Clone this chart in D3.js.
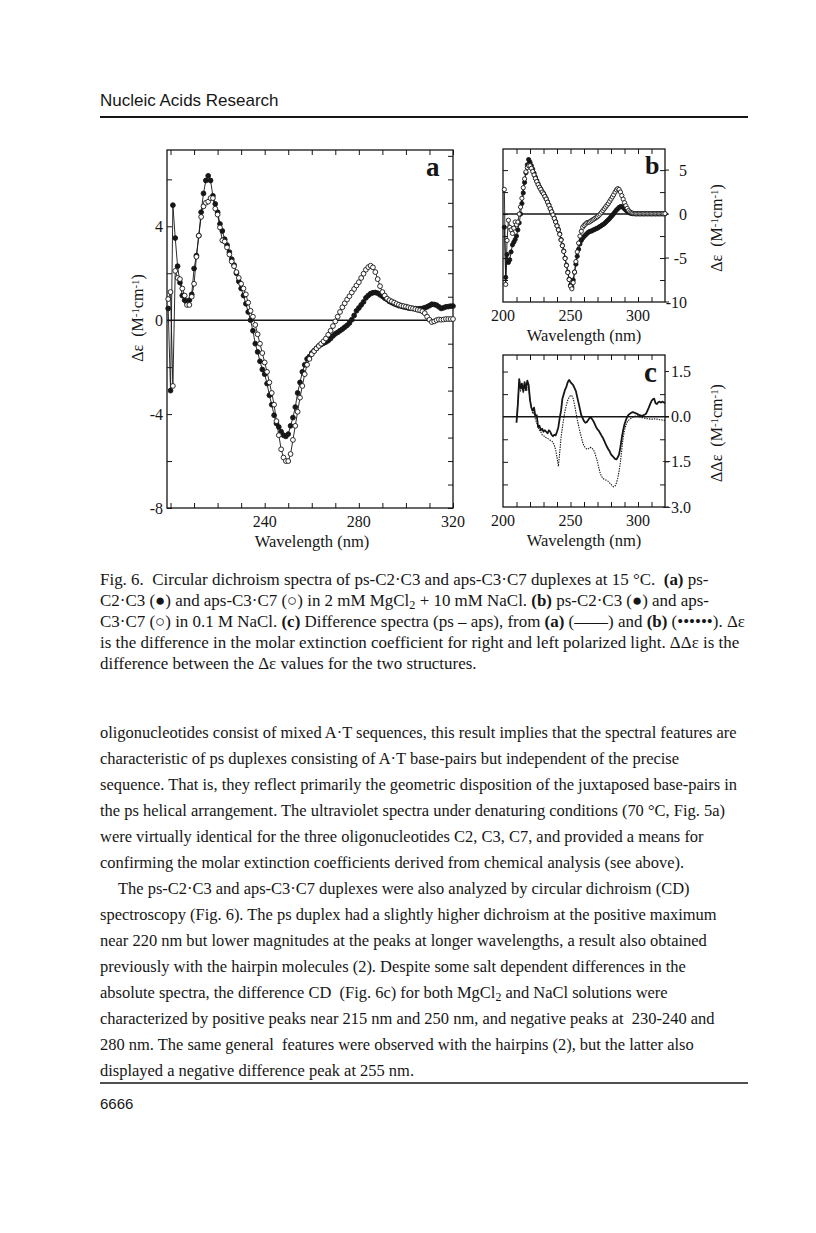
<!DOCTYPE html>
<html>
<head>
<meta charset="utf-8">
<title>Fig. 6 - CD spectra</title>
<script src="https://cdn.jsdelivr.net/npm/d3@7/dist/d3.min.js"></script>
<style>
  html, body { margin: 0; padding: 0; background: #fff; }
  svg { display: block; }
  text { font-family: "Liberation Serif", "Times New Roman", Times, serif; fill: #161616; white-space: pre; }
  .sans { font-family: "Liberation Sans", Arial, Helvetica, sans-serif; }
</style>
</head>
<body>
<svg id="page" width="816" height="1233"></svg>
<script>
// ---- data ----
// panel a: 2 mM MgCl2 + 10 mM NaCl, 1 nm steps 199..320
var nmA = d3.range(199, 321);
var psA = [
  0.5, -3.0, 4.9, 3.5, 2.3, 1.6, 1.05, 0.85, 0.75, 0.85, 1.1,
  2.2, 2.75, 3.6, 4.6, 5.4, 5.95, 6.15, 5.95, 5.3, 4.95,
  4.6, 4.1, 3.8, 3.45, 3.2, 2.9, 2.6, 2.35, 2.0, 1.65,
  1.35, 1.05, 0.7, 0.35, 0.0, -0.45, -1.0, -1.35, -1.75, -2.1,
  -2.3, -2.7, -3.2, -3.6, -4.05, -4.4, -4.55, -4.75, -4.9, -4.95,
  -4.85, -4.5, -4.15, -3.7, -3.1, -2.65, -2.2, -1.9, -1.65, -1.55,
  -1.4, -1.3, -1.2, -1.1, -1.03, -0.98, -0.93, -0.87, -0.78, -0.67,
  -0.58, -0.52, -0.45, -0.38, -0.3, -0.22, -0.12, 0.02, 0.2, 0.4,
  0.52, 0.65, 0.78, 0.95, 1.05, 1.13, 1.17, 1.18, 1.15, 1.08,
  1.02, 0.94, 0.88, 0.8, 0.75, 0.7, 0.66, 0.62, 0.6, 0.57,
  0.55, 0.52, 0.51, 0.5, 0.49, 0.48, 0.49, 0.5, 0.53, 0.57,
  0.62, 0.68, 0.67, 0.64, 0.57, 0.5, 0.53, 0.57, 0.58, 0.6,
  0.6
];
var apsA = [
  0.9, 1.2, -2.8, 2.1, 1.8, 1.75, 1.35, 1.05, 0.65, 0.65, 1.0,
  1.55, 2.7, 3.6, 4.4, 4.85, 5.0, 5.05, 5.2, 5.2, 4.75,
  4.5, 3.95, 3.4, 3.35, 3.1, 2.8, 2.5, 2.3, 2.05, 1.8,
  1.55, 1.35, 1.1, 0.75, 0.4, 0.15, -0.2, -0.6, -1.0, -1.4,
  -1.8, -2.2, -2.65, -3.1, -3.6, -4.3, -4.9, -5.5, -5.85, -6.0,
  -6.0, -5.7, -5.1, -4.5, -3.9, -3.3, -2.8, -2.3, -1.9, -1.65,
  -1.45, -1.32, -1.2, -1.1, -1.0, -0.9, -0.78, -0.62, -0.45, -0.25,
  -0.05, 0.15, 0.35, 0.55, 0.72, 0.88, 1.02, 1.18, 1.33, 1.48,
  1.62, 1.8, 1.98, 2.15, 2.26, 2.32, 2.25, 2.05, 1.75, 1.45,
  1.2, 1.05, 0.92, 0.85, 0.8, 0.75, 0.7, 0.66, 0.62, 0.6,
  0.58, 0.55, 0.52, 0.5, 0.47, 0.44, 0.42, 0.38, 0.3, 0.15,
  0.02, -0.08, -0.05, 0.0, 0.03, 0.02, 0.03, 0.05, 0.05, 0.05,
  0.05
];

// panel b: 0.1 M NaCl, 1 nm steps 201..320
var nmB = d3.range(201, 321);
var psB = [
  -1.5, -7.2, -4.6, -5.5, -5.2, -4.3, -3.5, -3.2, -2.9, -2.5,
  -1.8, -1.0, 0.0, 1.2, 2.4, 3.6, 4.7, 5.6, 6.2, 5.9,
  5.5, 5.1, 4.65, 4.2, 3.8, 3.45, 3.1, 2.85, 2.55, 2.35,
  2.05, 1.75, 1.4, 1.05, 0.65, 0.3, -0.05, -0.45, -0.85, -1.3,
  -1.75, -2.25, -2.9, -3.55, -4.2, -5.0, -5.8, -6.6, -7.4, -8.1,
  -8.3, -7.5, -6.6, -5.7, -4.8, -4.0, -3.4, -3.0, -2.75, -2.55,
  -2.4, -2.25, -2.1, -2.0, -1.95, -1.9, -1.8, -1.75, -1.65, -1.6,
  -1.5, -1.4, -1.3, -1.2, -1.1, -0.95, -0.8, -0.65, -0.5, -0.3,
  -0.15, 0.05, 0.25, 0.45, 0.6, 0.75, 0.85, 0.85, 0.75, 0.6,
  0.45, 0.3, 0.2, 0.12, 0.08, 0.05, 0.04, 0.03, 0.03, 0.03,
  0.03, 0.03, 0.03, 0.03, 0.03, 0.03, 0.03, 0.03, 0.03, 0.03,
  0.03, 0.03, 0.03, 0.03, 0.03, 0.03, 0.03, 0.03, 0.03, 0.03
];
var apsB = [
  2.8, -8.0, -3.0, -0.7, -1.5, -1.8, -2.2, -1.6, -0.9, -1.2,
  -0.9, 0.0, 0.8, 1.8, 3.0, 4.0, 4.8, 5.3, 5.5, 5.5,
  5.2, 4.85, 4.45, 4.05, 3.7, 3.35, 3.05, 2.8, 2.5, 2.3,
  2.0, 1.7, 1.35, 1.0, 0.6, 0.25, -0.1, -0.5, -0.9, -1.35,
  -1.8, -2.3, -2.95, -3.6, -4.25, -5.05, -5.85, -6.65, -7.45, -8.2,
  -8.5, -7.8, -6.6, -5.4, -4.3, -3.3, -2.5, -1.95, -1.5, -1.3,
  -1.15, -1.0, -0.95, -0.9, -0.8, -0.7, -0.6, -0.5, -0.4, -0.3,
  -0.15, 0.0, 0.2, 0.4, 0.6, 0.8, 1.0, 1.2, 1.45, 1.7,
  1.95, 2.2, 2.5, 2.75, 2.9, 2.8, 2.5, 2.1, 1.7, 1.3,
  0.95, 0.65, 0.4, 0.25, 0.15, 0.1, 0.06, 0.05, 0.05, 0.05,
  0.05, 0.05, 0.05, 0.05, 0.05, 0.05, 0.05, 0.05, 0.05, 0.05,
  0.05, 0.05, 0.05, 0.05, 0.05, 0.05, 0.05, 0.05, 0.05, 0.05
];

// panel c: difference spectra ps - aps, 1 nm steps 210..320
var nmC = d3.range(210, 321);
var diffMg = [
  -0.2, 0.4, 1.25, 0.95, 1.1, 0.85, 1.15, 0.9, 1.2, 1.05,
  0.55, 0.3, 0.2, 0.3, 0.0, 0.05, -0.35, -0.3, -0.45, -0.4,
  -0.5, -0.45, -0.5, -0.55, -0.45, -0.5, -0.6, -0.65, -0.6, -0.62,
  -0.5, -0.35, -0.05, 0.2, 0.6, 0.75, 0.9, 1.0, 1.15, 1.22,
  1.15, 1.1, 1.05, 0.95, 0.85, 0.65, 0.45, 0.25, 0.05, -0.05,
  -0.15, -0.2, -0.18, -0.12, -0.05, -0.02, -0.08, -0.15, -0.25, -0.35,
  -0.42, -0.47, -0.55, -0.63, -0.7, -0.8, -0.9, -1.0, -1.08, -1.15,
  -1.25, -1.3, -1.35, -1.4, -1.42, -1.35, -1.25, -1.0, -0.7, -0.45,
  -0.25, -0.12, 0.0, 0.06, 0.1, 0.13, 0.15, 0.14, 0.12, 0.1,
  0.08, 0.05, 0.04, 0.03, 0.05, 0.07, 0.1, 0.2, 0.3, 0.42,
  0.52, 0.58, 0.6, 0.45, 0.42, 0.48, 0.5, 0.47, 0.5, 0.48,
  0.45
];
var diffNa = [
  -0.15, 0.5, 1.1, 0.85, 1.0, 0.8, 0.95, 0.85, 0.9, 1.0,
  0.6, 0.3, 0.1, 0.15, -0.1, -0.2, -0.35, -0.45, -0.5, -0.6,
  -0.62, -0.68, -0.7, -0.72, -0.75, -0.78, -0.8, -0.85, -0.95, -1.1,
  -1.35, -1.65, -1.2, -0.7, -0.35, -0.05, 0.2, 0.4, 0.55, 0.65,
  0.7, 0.7, 0.6, 0.4, 0.15, -0.1, -0.3, -0.5, -0.68, -0.85,
  -0.97, -1.03, -1.08, -1.07, -1.03, -1.02, -1.05, -1.1, -1.2, -1.35,
  -1.5, -1.7, -1.88, -1.98, -2.05, -2.08, -2.1, -2.12, -2.15, -2.2,
  -2.25, -2.3, -2.33, -2.3, -2.2, -2.05, -1.8, -1.5, -1.1, -0.7,
  -0.45, -0.28, -0.18, -0.12, -0.08, -0.05, -0.02, 0.0, 0.02, 0.03,
  0.02, 0.0, -0.02, -0.03, -0.04, -0.05, -0.06, -0.07, -0.07, -0.08,
  -0.08, -0.08, -0.07, -0.08, -0.08, -0.09, -0.1, -0.1, -0.11, -0.12,
  -0.13
];

// tick labels
var xLabelsA = [240, 280, 320];
var yLabelsA = [4, 0, -4, -8];
var xLabelsBC = [200, 250, 300];
var yLabelsB = [5, 0, -5, -10];
var yLabelsC = [1.5, 0, -1.5, -3];

// text of the page
var captionLines = [
  "Fig. 6.  Circular dichroism spectra of ps-C2\u00b7C3 and aps-C3\u00b7C7 duplexes at 15 \u00b0C.  **(a)** ps-",
  "C2\u00b7C3 (\u25cf) and aps-C3\u00b7C7 (\u25cb) in 2 mM MgCl_{2} + 10 mM NaCl. **(b)** ps-C2\u00b7C3 (\u25cf) and aps-",
  "C3\u00b7C7 (\u25cb) in 0.1 M NaCl. **(c)** Difference spectra (ps \u2013 aps), from **(a)** (\u2014\u2014) and **(b)** (\u2022\u2022\u2022\u2022\u2022\u2022). \u0394\u03b5",
  "is the difference in the molar extinction coefficient for right and left polarized light. \u0394\u0394\u03b5 is the",
  "difference between the \u0394\u03b5 values for the two structures."
];
var bodyLines = [
  "oligonucleotides consist of mixed A\u00b7T sequences, this result implies that the spectral features are",
  "characteristic of ps duplexes consisting of A\u00b7T base-pairs but independent of the precise",
  "sequence. That is, they reflect primarily the geometric disposition of the juxtaposed base-pairs in",
  "the ps helical arrangement. The ultraviolet spectra under denaturing conditions (70 \u00b0C, Fig. 5a)",
  "were virtually identical for the three oligonucleotides C2, C3, C7, and provided a means for",
  "confirming the molar extinction coefficients derived from chemical analysis (see above).",
  "The ps-C2\u00b7C3 and aps-C3\u00b7C7 duplexes were also analyzed by circular dichroism (CD)",
  "spectroscopy (Fig. 6). The ps duplex had a slightly higher dichroism at the positive maximum",
  "near 220 nm but lower magnitudes at the peaks at longer wavelengths, a result also obtained",
  "previously with the hairpin molecules (2). Despite some salt dependent differences in the",
  "absolute spectra, the difference CD  (Fig. 6c) for both MgCl_{2} and NaCl solutions were",
  "characterized by positive peaks near 215 nm and 250 nm, and negative peaks at  230-240 and",
  "280 nm. The same general  features were observed with the hairpins (2), but the latter also",
  "displayed a negative difference peak at 255 nm."
];

var ink = "#161616";
var svg = d3.select("#page");
svg.append("rect").attr("width", 816).attr("height", 1233).attr("fill", "#fff");

// very small markup: **bold**, _{sub}, ^{sup}
function richText(sel, str) {
  str.split(/(\*\*[^*]+\*\*|_\{[^}]+\}|\^\{[^}]+\})/).forEach(function (part) {
    if (!part) return;
    var t = sel.append("tspan");
    if (part.indexOf("**") === 0) {
      t.style("font-weight", "bold").text(part.slice(2, -2));
    } else if (part.indexOf("_{") === 0) {
      t.attr("baseline-shift", "-28%").style("font-size", "72%").text(part.slice(2, -1));
    } else if (part.indexOf("^{") === 0) {
      t.attr("baseline-shift", "38%").style("font-size", "68%").text(part.slice(2, -1));
    } else {
      t.text(part);
    }
  });
  return sel;
}

// font size that makes a line span the given width
function fitSize(str, target, base) {
  var t = svg.append("text").style("font-size", base + "px");
  richText(t, str);
  var w = t.node().getComputedTextLength();
  t.remove();
  return base * target / w;
}

/* HEADER */
svg.append("text").classed("sans", true)
  .attr("x", 100).attr("y", 106)
  .style("font-size", "17px")
  .text("Nucleic Acids Research");
svg.append("line")
  .attr("x1", 100).attr("x2", 748).attr("y1", 117).attr("y2", 117)
  .attr("stroke", ink).attr("stroke-width", 2.2);

/* PANELS */
function drawPanel(p) {
  var x = d3.scaleLinear().domain(p.xDomain).range([p.left, p.right]);
  var y = d3.scaleLinear().domain(p.yDomain).range([p.bottom, p.top]);
  var g = svg.append("g");

  // inward ticks on the four sides
  var ticks = g.append("g");
  ticks.append("g").attr("transform", "translate(0," + p.bottom + ")")
    .call(d3.axisBottom(x).tickValues(p.xTicks).tickSize(-5).tickFormat(""));
  ticks.append("g").attr("transform", "translate(0," + p.top + ")")
    .call(d3.axisTop(x).tickValues(p.xTicks).tickSize(-5).tickFormat(""));
  ticks.append("g").attr("transform", "translate(" + p.left + ",0)")
    .call(d3.axisLeft(y).tickValues(p.yTicksLeft).tickSize(-5).tickFormat(""));
  ticks.append("g").attr("transform", "translate(" + p.right + ",0)")
    .call(d3.axisRight(y).tickValues(p.yTicksRight).tickSize(-5).tickFormat(""));
  ticks.selectAll(".domain").remove();
  ticks.selectAll(".tick line").attr("stroke", ink).attr("stroke-width", 1);

  if (p.outTicks) {
    g.selectAll("line.outTick").data(p.yLabels).enter().append("line")
      .attr("x1", p.right).attr("x2", p.right + 4)
      .attr("y1", function (d) { return y(d); })
      .attr("y2", function (d) { return y(d); })
      .attr("stroke", ink).attr("stroke-width", 1);
  }

  g.append("rect")
    .attr("x", p.left).attr("y", p.top)
    .attr("width", p.right - p.left).attr("height", p.bottom - p.top)
    .attr("fill", "none").attr("stroke", ink).attr("stroke-width", 1.3);

  // zero line
  g.append("line")
    .attr("x1", p.left).attr("x2", p.zeroEnd)
    .attr("y1", y(0)).attr("y2", y(0))
    .attr("stroke", ink).attr("stroke-width", 1.6);

  g.selectAll("text.xlab").data(p.xLabels).enter().append("text")
    .attr("x", function (d) { return x(d); })
    .attr("y", p.xLabelY)
    .attr("text-anchor", "middle")
    .style("font-size", "16px")
    .text(function (d) { return d; });

  g.selectAll("text.ylab").data(p.yLabels).enter().append("text")
    .attr("x", p.yLabelX)
    .attr("y", function (d) { return y(d) + 5.5; })
    .attr("text-anchor", "end")
    .style("font-size", "16px")
    .text(p.yFormat);

  g.append("text")
    .attr("x", (p.left + p.right) / 2 + p.xTitleDx).attr("y", p.xTitleY)
    .attr("text-anchor", "middle")
    .style("font-size", "16.5px")
    .text("Wavelength (nm)");

  richText(g.append("text")
    .attr("transform", "translate(" + p.yTitleX + "," + p.yTitleY + ") rotate(-90)")
    .attr("text-anchor", "middle")
    .style("font-size", "16px"), p.yTitle);

  g.append("text")
    .attr("x", p.letterX).attr("y", p.letterY)
    .style("font-size", p.letterSize + "px")
    .style("font-weight", "bold")
    .text(p.letter);

  return {g: g, x: x, y: y};
}

function dotSeries(panel, nm, vals, filled, r) {
  var pts = d3.zip(nm, vals);
  var line = d3.line()
    .x(function (d) { return panel.x(d[0]); })
    .y(function (d) { return panel.y(d[1]); });
  panel.g.append("path").datum(pts)
    .attr("d", line)
    .attr("fill", "none").attr("stroke", ink).attr("stroke-width", 0.9);
  panel.g.append("g").selectAll("circle").data(pts).enter().append("circle")
    .attr("cx", function (d) { return panel.x(d[0]); })
    .attr("cy", function (d) { return panel.y(d[1]); })
    .attr("r", r)
    .attr("fill", filled ? ink : "#fff")
    .attr("stroke", ink).attr("stroke-width", 0.9);
}

function lineSeries(panel, nm, vals, width, dash) {
  var line = d3.line()
    .x(function (d) { return panel.x(d[0]); })
    .y(function (d) { return panel.y(d[1]); });
  panel.g.append("path").datum(d3.zip(nm, vals))
    .attr("d", line)
    .attr("fill", "none").attr("stroke", ink)
    .attr("stroke-width", width)
    .attr("stroke-dasharray", dash || null)
    .attr("stroke-linejoin", "round");
}

var panelA = drawPanel({
  left: 167, right: 453, top: 150, bottom: 508,
  xDomain: [198.5, 320], yDomain: [-8, 7.25],
  xTicks: d3.range(200, 321, 10),
  yTicksLeft: d3.range(-8, 8, 2), yTicksRight: d3.range(-8, 8, 1),
  zeroEnd: 453,
  xLabels: xLabelsA, xLabelY: 527,
  yLabels: yLabelsA, yLabelX: 163, yFormat: function (d) { return d; },
  xTitleDx: 2, xTitleY: 547,
  yTitle: "\u0394\u03b5  (M^{-1}cm^{-1})", yTitleX: 143, yTitleY: 318,
  letter: "a", letterX: 426, letterY: 176, letterSize: 27
});
dotSeries(panelA, nmA, psA, true, 2.4);
dotSeries(panelA, nmA, apsA, false, 2.4);

var panelB = drawPanel({
  left: 503, right: 665, top: 149, bottom: 302,
  xDomain: [200, 320], yDomain: [-10, 7.4],
  xTicks: d3.range(210, 320, 10),
  yTicksLeft: d3.range(-7.5, 7.5, 2.5), yTicksRight: d3.range(-7.5, 7.5, 2.5),
  zeroEnd: 668, outTicks: true,
  xLabels: xLabelsBC, xLabelY: 321,
  yLabels: yLabelsB, yLabelX: 687, yFormat: function (d) { return d; },
  xTitleDx: 0, xTitleY: 341,
  yTitle: "\u0394\u03b5  (M^{-1}cm^{-1})", yTitleX: 722, yTitleY: 228,
  letter: "b", letterX: 645, letterY: 174, letterSize: 26
});
dotSeries(panelB, nmB, psB, true, 2.1);
dotSeries(panelB, nmB, apsB, false, 2.1);

var panelC = drawPanel({
  left: 503, right: 665, top: 355, bottom: 507,
  xDomain: [200, 320], yDomain: [-3, 2.05],
  xTicks: d3.range(210, 320, 10),
  yTicksLeft: [-2.25, -1.5, -0.75, 0.75, 1.5], yTicksRight: [-2.25, -0.75, 0.75],
  zeroEnd: 669, outTicks: true,
  xLabels: xLabelsBC, xLabelY: 526,
  yLabels: yLabelsC, yLabelX: 691, yFormat: d3.format(".1f"),
  xTitleDx: 0, xTitleY: 546,
  yTitle: "\u0394\u0394\u03b5  (M^{-1}cm^{-1})", yTitleX: 722, yTitleY: 433,
  letter: "c", letterX: 644, letterY: 382, letterSize: 29
});
lineSeries(panelC, nmC, diffNa, 1.1, "1.4 1.1");
lineSeries(panelC, nmC, diffMg, 1.8);

/* CAPTION */
var capSize = fitSize(captionLines[3], 640, 16);
captionLines.forEach(function (s, i) {
  richText(svg.append("text")
    .attr("x", 100).attr("y", 585 + i * 21)
    .style("font-size", capSize + "px"), s);
});

/* BODY */
var bodySize = fitSize(bodyLines[0], 637, 16);
bodyLines.forEach(function (s, i) {
  richText(svg.append("text")
    .attr("x", i === 6 ? 118 : 100).attr("y", 738 + i * 26)
    .style("font-size", bodySize + "px"), s);
});

/* FOOTER */
svg.append("line")
  .attr("x1", 100).attr("x2", 748).attr("y1", 1083).attr("y2", 1083)
  .attr("stroke", ink).attr("stroke-width", 1.5);
svg.append("text").classed("sans", true)
  .attr("x", 100).attr("y", 1109)
  .style("font-size", "15px")
  .text("6666");
</script>
</body>
</html>
